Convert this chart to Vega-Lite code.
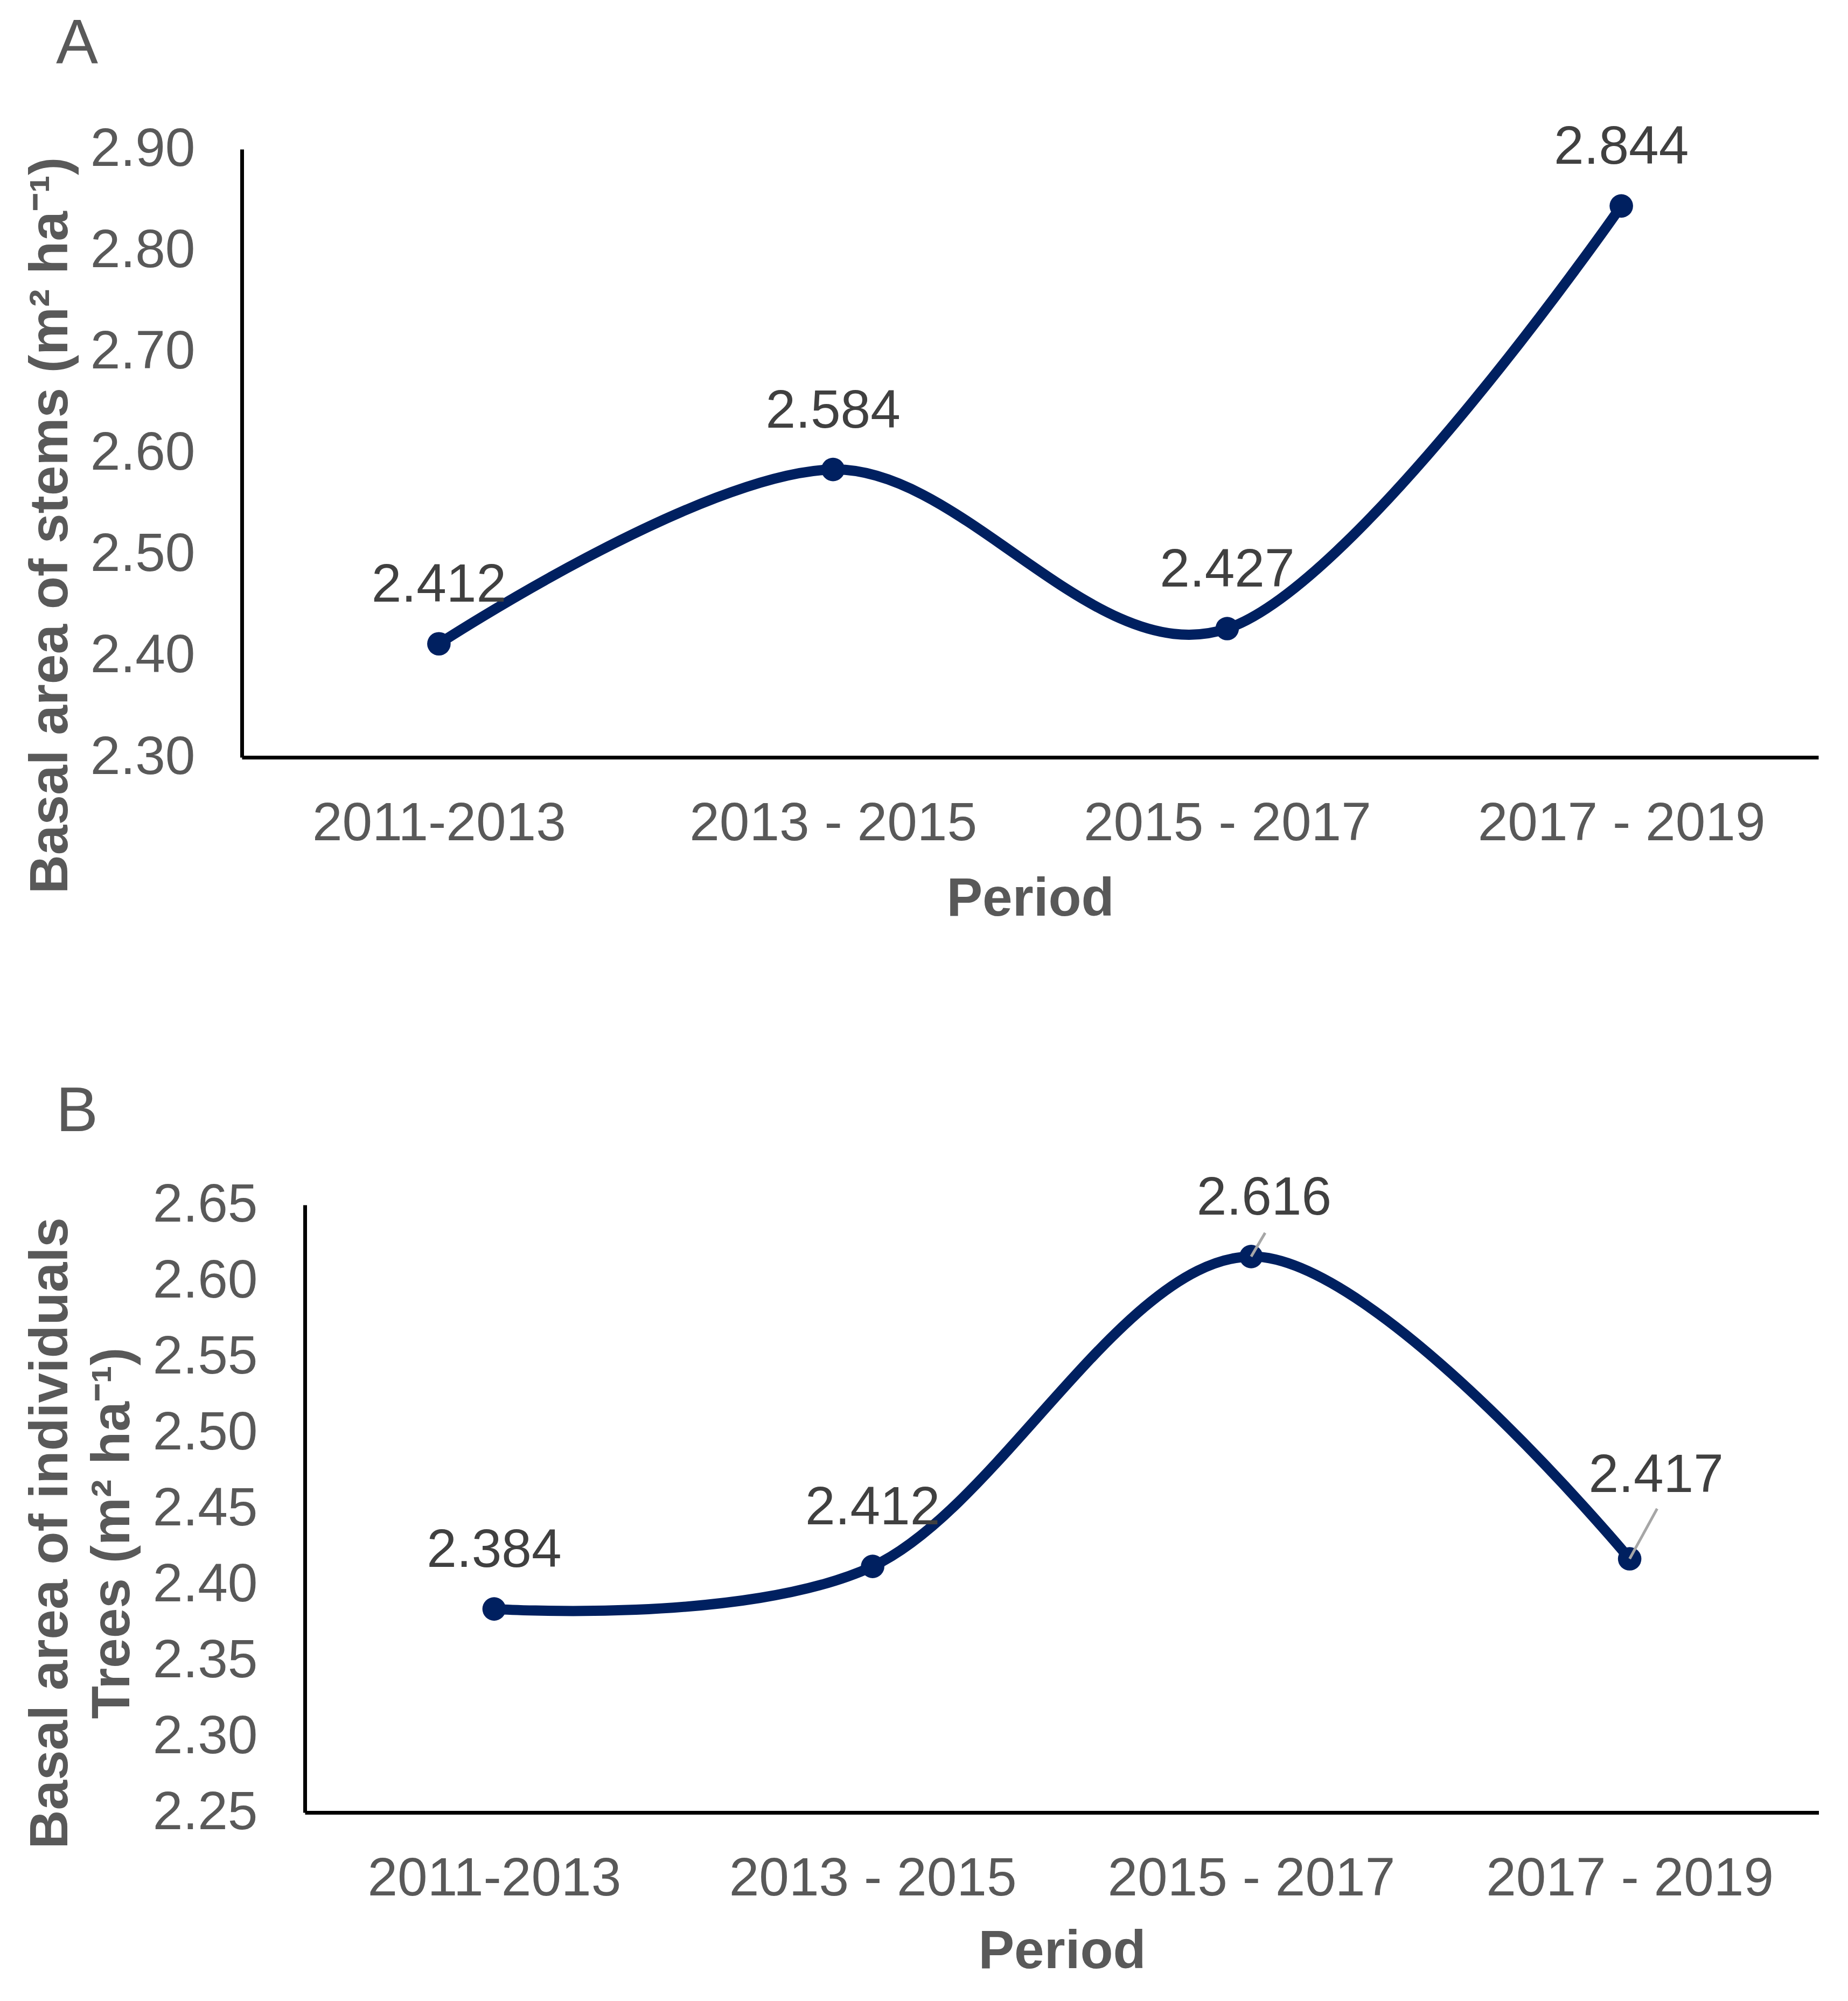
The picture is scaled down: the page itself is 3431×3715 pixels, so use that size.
{
  "$schema": "https://vega.github.io/schema/vega-lite/v6.json",
  "background": "white",
  "padding": {"left": 43, "top": 24, "right": 0, "bottom": 0},
  "config": {
    "font": "Liberation Sans",
    "view": {"stroke": null},
    "axis": {
      "grid": false, "ticks": false, "tickSize": 0,
      "domainColor": "#000000", "domainWidth": 7,
      "labelFont": "Liberation Sans", "labelFontSize": 100, "labelColor": "#595959",
      "labelOverlap": false, "labelFlush": false, "labelLimit": 0, "titleLimit": 0,
      "titleFont": "Liberation Sans", "titleFontSize": 100, "titleFontWeight": "bold", "titleColor": "#595959"
    }
  },
  "spacing": 286,
  "vconcat": [
    {
      "width": 2927, "height": 1129,
      "title": {"text": "A", "anchor": "start", "frame": "group", "dx": -345, "offset": -11, "baseline": "alphabetic", "fontSize": 117, "fontWeight": "normal", "font": "Liberation Sans", "color": "#595959"},
      "data": {"values": [
        {"period": "2011-2013", "value": 2.412},
        {"period": "2013 - 2015", "value": 2.584},
        {"period": "2015 - 2017", "value": 2.427},
        {"period": "2017 - 2019", "value": 2.844}
      ]},
      "encoding": {
        "x": {"field": "period", "type": "ordinal", "sort": null, "scale": {"type": "point", "padding": 0.5},
              "axis": {"title": "Period", "labelAngle": 0, "labelPadding": 74, "titleY": 293, "titleBaseline": "alphabetic"}},
        "y": {"field": "value", "type": "quantitative", "scale": {"domain": [2.3, 2.9], "zero": false, "nice": false},
              "axis": {"values": [2.3, 2.4, 2.5, 2.6, 2.7, 2.8, 2.9], "format": ".2f", "labelPadding": 87,
                       "title": "Basal area of stems (m² ha⁻¹)", "titleX": -325, "titleY": 698, "titleBaseline": "alphabetic", "titleAngle": 270}}
      },
      "layer": [
        {"mark": {"type": "line", "interpolate": "cardinal", "color": "#002060", "strokeWidth": 19}},
        {"mark": {"type": "point", "filled": true, "opacity": 1, "shape": "circle", "size": 1900, "color": "#002060"}},
        {"mark": {"type": "text", "dy": -78, "baseline": "alphabetic", "fontSize": 100, "color": "#404040", "font": "Liberation Sans"},
         "encoding": {"text": {"field": "value", "type": "quantitative", "format": ".3f"}}}
      ]
    },
    {
      "width": 2928, "height": 1128,
      "title": {"text": "B", "anchor": "start", "frame": "group", "dx": -345, "offset": -42, "baseline": "alphabetic", "fontSize": 117, "fontWeight": "normal", "font": "Liberation Sans", "color": "#595959"},
      "data": {"values": [
        {"period": "2011-2013", "value": 2.384},
        {"period": "2013 - 2015", "value": 2.412},
        {"period": "2015 - 2017", "value": 2.616},
        {"period": "2017 - 2019", "value": 2.417}
      ]},
      "encoding": {
        "x": {"field": "period", "type": "ordinal", "sort": null, "scale": {"type": "point", "padding": 0.5, "range": [117, 2928]},
              "axis": {"title": "Period", "labelAngle": 0, "labelPadding": 74, "titleY": 288, "titleBaseline": "alphabetic"}},
        "y": {"field": "value", "type": "quantitative", "scale": {"domain": [2.25, 2.65], "zero": false, "nice": false},
              "axis": {"values": [2.25, 2.3, 2.35, 2.4, 2.45, 2.5, 2.55, 2.6, 2.65], "format": ".2f", "labelPadding": 88, "offset": -117,
                       "title": ["Basal area of individuals", "Trees (m² ha⁻¹)"], "titleLineHeight": 115,
                       "titleX": -442, "titleY": 609, "titleBaseline": "alphabetic", "titleAngle": 270}}
      },
      "layer": [
        {"mark": {"type": "line", "interpolate": "cardinal", "color": "#002060", "strokeWidth": 19}},
        {"mark": {"type": "point", "filled": true, "opacity": 1, "shape": "circle", "size": 1900, "color": "#002060"}},
        {"transform": [{"filter": "datum.period === '2015 - 2017'"}],
         "mark": {"type": "rule", "color": "#A6A6A6", "strokeWidth": 5, "x2Offset": 26, "y2Offset": -44},
         "encoding": {"x2": {"field": "period"}, "y2": {"field": "value"}}},
        {"transform": [{"filter": "datum.period === '2017 - 2019'"}],
         "mark": {"type": "rule", "color": "#A6A6A6", "strokeWidth": 5, "x2Offset": 51, "y2Offset": -93},
         "encoding": {"x2": {"field": "period"}, "y2": {"field": "value"}}},
        {"transform": [{"filter": "datum.period === '2011-2013' || datum.period === '2013 - 2015'"}],
         "mark": {"type": "text", "dy": -78, "baseline": "alphabetic", "fontSize": 100, "color": "#404040", "font": "Liberation Sans"},
         "encoding": {"text": {"field": "value", "type": "quantitative", "format": ".3f"}}},
        {"transform": [{"filter": "datum.period === '2015 - 2017'"}],
         "mark": {"type": "text", "dx": 24, "dy": -78, "baseline": "alphabetic", "fontSize": 100, "color": "#404040", "font": "Liberation Sans"},
         "encoding": {"text": {"field": "value", "type": "quantitative", "format": ".3f"}}},
        {"transform": [{"filter": "datum.period === '2017 - 2019'"}],
         "mark": {"type": "text", "dx": 49, "dy": -124, "baseline": "alphabetic", "fontSize": 100, "color": "#404040", "font": "Liberation Sans"},
         "encoding": {"text": {"field": "value", "type": "quantitative", "format": ".3f"}}}
      ]
    }
  ]
}
